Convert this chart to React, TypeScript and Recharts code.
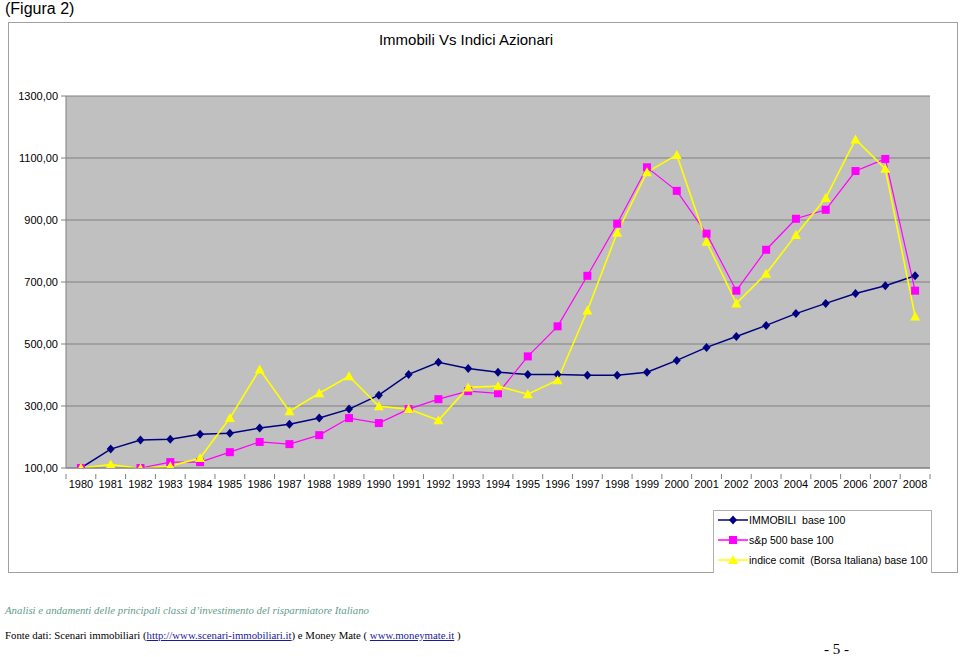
import { LineChart, Line, XAxis, YAxis, CartesianGrid } from "recharts";

const years = [
  "1980", "1981", "1982", "1983", "1984", "1985", "1986", "1987", "1988", "1989",
  "1990", "1991", "1992", "1993", "1994", "1995", "1996", "1997", "1998", "1999",
  "2000", "2001", "2002", "2003", "2004", "2005", "2006", "2007", "2008",
];

const immobili = [100, 161, 190, 193, 209, 212, 229, 241, 261, 290, 335, 402, 441, 421, 409, 402, 402, 399, 399, 409, 447, 489, 524, 560, 598, 631, 663, 688, 720];
const sp500 = [100, 90, 100, 119, 119, 151, 184, 177, 206, 261, 245, 290, 322, 348, 341, 460, 557, 720, 888, 1070, 994, 856, 672, 804, 904, 933, 1058, 1097, 672];
const comit = [100, 111, 98, 106, 132, 261, 418, 283, 341, 396, 299, 290, 254, 360, 364, 338, 383, 608, 859, 1054, 1110, 830, 631, 727, 852, 971, 1160, 1065, 589];

const yTicks = [100, 300, 500, 700, 900, 1100, 1300];

const data = years.map((year, i) => ({
  year,
  immobili: immobili[i],
  sp500: sp500[i],
  comit: comit[i],
}));

const NAVY = "#000080";
const MAGENTA = "#FF00FF";
const YELLOW = "#FFFF00";
const FONT = '"Liberation Sans", Arial, sans-serif';
const SERIF = '"Liberation Serif", "Times New Roman", serif';

const Diamond = (props: any) => {
  const { cx, cy } = props;
  if (cx == null || cy == null) return null;
  return <polygon points={`${cx},${cy - 4.5} ${cx + 4},${cy} ${cx},${cy + 4.5} ${cx - 4},${cy}`} fill={NAVY} />;
};

const Square = (props: any) => {
  const { cx, cy } = props;
  if (cx == null || cy == null) return null;
  return <rect x={cx - 4} y={cy - 4} width={8} height={8} fill={MAGENTA} />;
};

const Triangle = (props: any) => {
  const { cx, cy } = props;
  if (cx == null || cy == null) return null;
  return <polygon points={`${cx},${cy - 5} ${cx + 5},${cy + 4} ${cx - 5},${cy + 4}`} fill={YELLOW} />;
};

// category label plus Excel-style tick marks on the band edges
const YearTick = (props: any) => {
  const { x, y, payload, index } = props;
  const half = 864 / years.length / 2;
  const top = y - 6;
  return (
    <g>
      <line x1={x - half} y1={top} x2={x - half} y2={top + 5} stroke="#808080" />
      {index === years.length - 1 && <line x1={x + half} y1={top} x2={x + half} y2={top + 5} stroke="#808080" />}
      <text x={x} y={y} dy="0.71em" textAnchor="middle" fontSize={11} fontFamily={FONT} fill="#000">
        {payload.value}
      </text>
    </g>
  );
};

const legendItems = [
  { label: "IMMOBILI  base 100", color: NAVY, Shape: Diamond },
  { label: "s&p 500 base 100", color: MAGENTA, Shape: Square },
  { label: "indice comit  (Borsa Italiana) base 100", color: YELLOW, Shape: Triangle },
];

const App = () => {
  return (
    <div style={{ position: "absolute", left: 0, top: 0, width: 960, height: 657, background: "#fff", fontFamily: FONT, overflow: "hidden" }}>
      <div style={{ position: "absolute", left: 5, top: 1, fontSize: 16, lineHeight: "16px" }}>(Figura 2)</div>
      <div style={{ position: "absolute", left: 8, top: 22, width: 950, height: 551, border: "1px solid #a0a0a0", boxSizing: "border-box" }} />
      <div style={{ position: "absolute", left: 8, top: 31, width: 916, textAlign: "center", fontSize: 15, lineHeight: "18px" }}>
        Immobili Vs Indici Azionari
      </div>
      <div style={{ position: "absolute", left: 8, top: 22 }}>
        <LineChart width={950} height={551} data={data} margin={{ top: 74, right: 28, bottom: 75, left: 8 }}>
          <CartesianGrid vertical={false} stroke="#808080" fill="#C0C0C0" />
          <XAxis
            dataKey="year"
            scale="band"
            interval={0}
            height={30}
            tickLine={false}
            axisLine={{ stroke: "#808080" }}
            tickMargin={6}
            tick={<YearTick />}
          />
          <YAxis
            domain={[100, 1300]}
            ticks={yTicks}
            allowDataOverflow
            width={50}
            tickSize={5}
            tickMargin={3}
            tickLine={{ stroke: "#808080" }}
            axisLine={{ stroke: "#808080" }}
            tickFormatter={(v: number) => `${v},00`}
            tick={{ fill: "#000", fontSize: 11, fontFamily: FONT }}
          />
          <YAxis
            yAxisId="r"
            orientation="right"
            domain={[100, 1300]}
            width={0}
            tick={false}
            tickLine={false}
            axisLine={{ stroke: "#a8a8a8" }}
          />
          <Line dataKey="immobili" stroke={NAVY} strokeWidth={1.5} dot={<Diamond />} isAnimationActive={false} />
          <Line dataKey="sp500" stroke={MAGENTA} strokeWidth={1.2} dot={<Square />} isAnimationActive={false} />
          <Line dataKey="comit" stroke={YELLOW} strokeWidth={1.6} dot={<Triangle />} isAnimationActive={false} />
        </LineChart>
      </div>
      <div style={{ position: "absolute", left: 713, top: 510, width: 219, height: 63, border: "1px solid #b0b0b0", borderBottom: "none", boxSizing: "border-box", background: "#fff" }}>
        {legendItems.map(({ label, color, Shape }, i) => (
          <div key={label} style={{ position: "absolute", left: 3, top: 1 + i * 20, height: 16, display: "flex", alignItems: "center", fontSize: 10.5 }}>
            <svg width={31} height={14}>
              <line x1={1} y1={7} x2={31} y2={7} stroke={color} strokeWidth={1.5} />
              <Shape cx={16} cy={7} />
            </svg>
            <span style={{ marginLeft: 1, whiteSpace: "pre" }}>{label}</span>
          </div>
        ))}
      </div>
      <div style={{ position: "absolute", left: 5, top: 604, fontFamily: SERIF, fontStyle: "italic", fontSize: 10.8, color: "#5f9c8c", whiteSpace: "nowrap" }}>
        Analisi e andamenti delle principali classi d’investimento del risparmiatore Italiano
      </div>
      <div style={{ position: "absolute", left: 5, top: 629, fontFamily: SERIF, fontSize: 10.8, color: "#000", whiteSpace: "nowrap" }}>
        Fonte dati: Scenari immobiliari (<span style={{ color: "#1a1aa0", textDecoration: "underline" }}>http://www.scenari-immobiliari.it</span>) e Money Mate ( <span style={{ color: "#1a1aa0", textDecoration: "underline" }}>www.moneymate.it</span> )
      </div>
      <div style={{ position: "absolute", left: 824, top: 641, fontFamily: SERIF, fontSize: 15, whiteSpace: "pre" }}>- 5 -</div>
    </div>
  );
};

export default App;
